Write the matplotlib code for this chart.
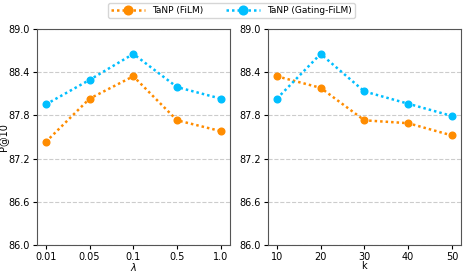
import matplotlib
matplotlib.use('Agg')
import matplotlib.pyplot as plt
import numpy as np

lambdaLabels = ['0.01', '0.05', '0.1', '0.5', '1.0']
kLabels = ['10', '20', '30', '40', '50']

filmLambda = [87.43, 88.03, 88.34, 87.73, 87.58]
gatingLambda = [87.95, 88.29, 88.65, 88.19, 88.03]
filmK = [88.34, 88.18, 87.73, 87.69, 87.52]
gatingK = [88.03, 88.65, 88.13, 87.96, 87.79]

corFilm = '#ff8c00'
corGating = '#00bfff'

plt.rcParams['font.size'] = 7
fig, (ax1, ax2) = plt.subplots(1, 2, figsize=(4.63, 2.73), dpi=100)
fig.subplots_adjust(left=0.08, right=0.995, bottom=0.102, top=0.895, wspace=0.2)

for ax, labels, film, gating, xlabel in [(ax1, lambdaLabels, filmLambda, gatingLambda, r'$\lambda$'),
                                         (ax2, kLabels, filmK, gatingK, 'k')]:
    pos = np.arange(len(labels))
    ax.plot(pos, film, linestyle=(0, (1, 1.2)), linewidth=1.8, marker='o', markersize=4.8,
            color=corFilm, label='TaNP (FiLM)')
    ax.plot(pos, gating, linestyle=(0, (1, 1.2)), linewidth=1.8, marker='o', markersize=4.8,
            color=corGating, label='TaNP (Gating-FiLM)')
    ax.set_xticks(pos)
    ax.set_xticklabels(labels)
    ax.set_xlim(-0.2, 4.2)
    ax.set_ylim(86.0, 89.0)
    ax.set_yticks(np.arange(86.0, 89.01, 0.6))
    ax.yaxis.grid(True, linestyle='--', color='#cccccc', linewidth=0.8)
    ax.set_axisbelow(True)
    ax.set_xlabel(xlabel, labelpad=-1)
    ax.tick_params(pad=2, length=3)
    for s in ax.spines.values():
        s.set_color('#555555')

ax1.set_ylabel('P@10', labelpad=0)
handles, labels = ax1.get_legend_handles_labels()
fig.legend(handles, labels, loc='upper center', ncol=2, bbox_to_anchor=(0.5, 1.005),
           fontsize=6.5, columnspacing=2.5, handlelength=3.8, borderpad=0.3,
           markerscale=1.3)

plt.savefig('out.png')
